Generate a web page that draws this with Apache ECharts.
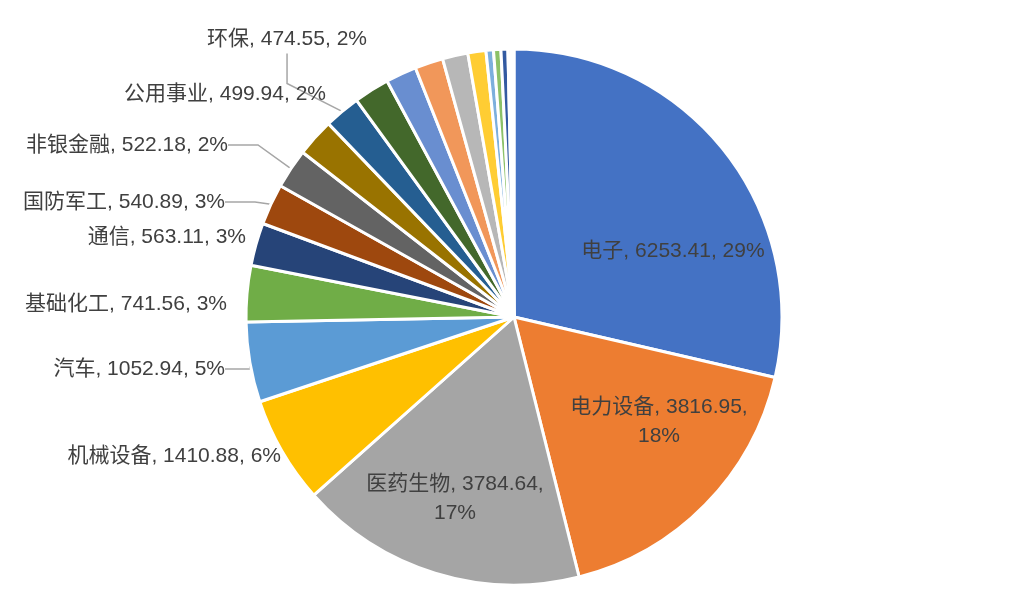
<!DOCTYPE html>
<html>
<head>
<meta charset="utf-8">
<script src="https://cdn.jsdelivr.net/npm/echarts@6/dist/echarts.min.js"></script>
<style>
  html, body { margin: 0; padding: 0; background: #fff; }
  #main { width: 1020px; height: 599px; }
</style>
</head>
<body>
<div id="main"></div>
<script>
var industries = ['电子', '电力设备', '医药生物', '机械设备', '汽车', '基础化工', '通信', '国防军工',
  '非银金融', '公用事业', '环保', '其他1', '其他2', '其他3', '其他4', '其他5', '其他6', '其他7',
  '其他8', '其他9', '其他10', '其他11'];
var values = [6253.41, 3816.95, 3784.64, 1410.88, 1052.94, 741.56, 563.11, 540.89,
  522.18, 499.94, 474.55, 470, 405, 372, 335, 238, 98, 97, 91, 40, 25, 14];
// percentages as printed on the labels
var percents = [29, 18, 17, 6, 5, 3, 3, 3, 2, 2, 2];
var colors = ['#4472C4', '#ED7D31', '#A5A5A5', '#FFC000', '#5B9BD5', '#70AD47', '#264478', '#9E480E',
  '#636363', '#997300', '#255E91', '#43682B', '#698ED0', '#F1975A', '#B7B7B7', '#FFCD33',
  '#7CAFDD', '#8CC168', '#335AA1', '#D26012', '#848484', '#CC9A00'];

// which slices are labelled inside, which wrap, which have leader lines
var insideIdx = [0, 1, 2];
var wrapIdx = [1, 2];
var lineIdx = [4, 7, 8, 10];
// label anchor [x, y, align] in px
var labelAnchors = [
  [673, 251, 'center'], [659, 422, 'center'], [455, 499, 'center'],
  [281, 456, 'right'], [225, 369, 'right'], [227, 304, 'right'], [246, 237, 'right'],
  [225, 202, 'right'], [228, 145, 'right'], [326, 94, 'right'], [367, 39, 'right']
];

var chartDom = document.getElementById('main');
var myChart = echarts.init(chartDom, null, { renderer: 'canvas' });
var option;

var data = industries.map(function (name, i) {
  var item = { name: name, value: values[i] };
  if (i >= percents.length) {
    item.label = { show: false };
    item.labelLine = { show: false };
  } else if (insideIdx.indexOf(i) >= 0) {
    item.label = { position: 'inside' };
  } else {
    item.labelLine = { show: lineIdx.indexOf(i) >= 0 };
  }
  return item;
});

option = {
  animation: false,
  color: colors,
  series: [
    {
      type: 'pie',
      center: [514, 317],
      radius: 268,
      startAngle: 90,
      clockwise: true,
      avoidLabelOverlap: false,
      data: data,
      itemStyle: {
        borderColor: '#fff',
        borderWidth: 3
      },
      label: {
        show: true,
        position: 'outside',
        color: '#404040',
        fontSize: 21,
        lineHeight: 29,
        fontFamily: '"Liberation Sans", "Noto Sans CJK SC", sans-serif',
        formatter: function (p) {
          var sep = wrapIdx.indexOf(p.dataIndex) >= 0 ? ',\n' : ', ';
          return p.name + ', ' + p.value.toFixed(2) + sep + percents[p.dataIndex] + '%';
        }
      },
      labelLine: {
        lineStyle: { color: '#A6A6A6', width: 1.5 }
      },
      labelLayout: function (params) {
        var a = labelAnchors[params.dataIndex];
        if (!a) return {};
        return { x: a[0], y: a[1], align: a[2], verticalAlign: 'middle' };
      },
      emphasis: { scale: false }
    }
  ]
};

option && myChart.setOption(option);
</script>
</body>
</html>
